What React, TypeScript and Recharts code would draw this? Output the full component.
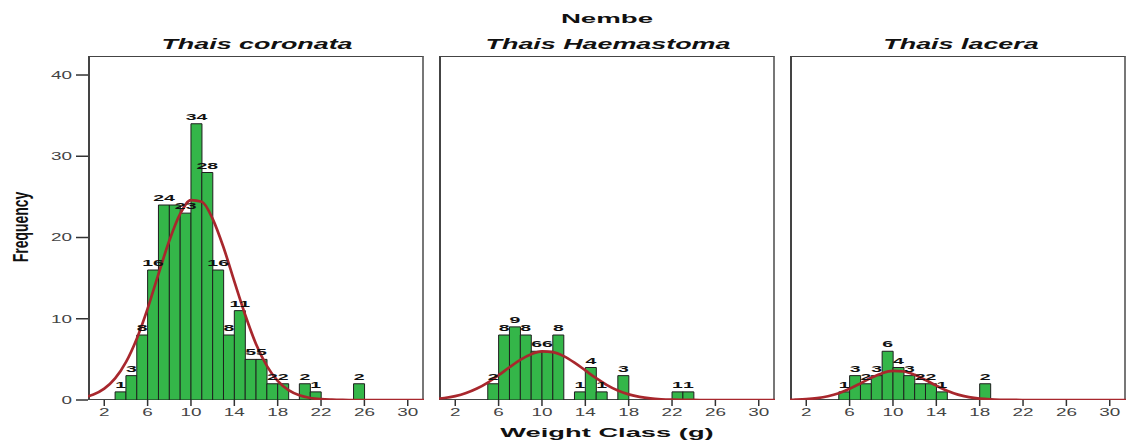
import React from "react";
import { ComposedChart, Bar, Line, XAxis, YAxis, LabelList } from "recharts";

const FONT = "'Liberation Sans', Arial, sans-serif";
const X_TICKS = [2, 6, 10, 14, 18, 22, 26, 30];
const Y_TICKS = [0, 10, 20, 30, 40];

// histogram bins: start of 1 g class -> frequency
const coronataBins = [3, 4, 5, 6, 7, 8, 9, 10, 11, 12, 13, 14, 15, 16, 17, 18, 20, 21, 25];
const coronataCounts = [1, 3, 8, 16, 24, 24, 23, 34, 28, 16, 8, 11, 5, 5, 2, 2, 2, 1, 2];

const haemastomaBins = [5, 6, 7, 8, 9, 10, 11, 13, 14, 15, 17, 22, 23];
const haemastomaCounts = [2, 8, 9, 8, 6, 6, 8, 1, 4, 1, 3, 1, 1];

const laceraBins = [5, 6, 7, 8, 9, 10, 11, 12, 13, 14, 18];
const laceraCounts = [1, 3, 2, 3, 6, 4, 3, 2, 2, 1, 2];

// normal curve
const CURVE_X = [0.5, 1, 2, 3, 4, 5, 6, 7, 8, 9, 10, 11, 12, 13, 14, 15, 16, 17, 18, 19, 20, 21, 22, 23, 24, 25, 31.5];
const coronataCurve = [0.45, 0.67, 1.39, 2.65, 4.66, 7.55, 11.25, 15.5, 19.6, 22.9, 24.6, 24.4, 22.3, 18.8, 14.6, 10.5, 6.9, 4.2, 2.35, 1.21, 0.58, 0.25, 0.1, 0.04, 0.01, 0, 0];
const haemastomaCurve = [0.18, 0.25, 0.48, 0.86, 1.41, 2.15, 3.05, 4.03, 4.95, 5.64, 5.98, 5.89, 5.4, 4.6, 3.64, 2.68, 1.83, 1.16, 0.69, 0.38, 0.19, 0.09, 0.04, 0.02, 0.01, 0, 0];
const laceraCurve = [0.02, 0.04, 0.1, 0.23, 0.46, 0.83, 1.38, 2.04, 2.73, 3.3, 3.58, 3.51, 3.1, 2.46, 1.77, 1.14, 0.66, 0.35, 0.16, 0.07, 0.03, 0.01, 0, 0, 0, 0, 0];

const PLOT_W = 336;
const TOP = 56;
const BOTTOM = 400;
const X_DOMAIN = [0.5, 31.5];
const Y_MAX = 42.34;

const XTick = (p: any) => (
  <g transform={`translate(${p.x},${p.y})`}>
    <text transform="scale(1.8,1)" textAnchor="middle" dy={8} fontSize={10.5} fill="#444" fontFamily={FONT}>
      {p.payload.value}
    </text>
  </g>
);

const YTick = (p: any) => (
  <g transform={`translate(${p.x - 2},${p.y})`}>
    <text transform="scale(1.8,1)" textAnchor="end" dy={3.8} fontSize={10.5} fill="#444" fontFamily={FONT}>
      {p.payload.value}
    </text>
  </g>
);

const BarLabel = (p: any) => {
  if (!p.value) return null;
  const x = Number(p.x) + Number(p.width) / 2;
  const y = Number(p.y) - 4;
  return (
    <g transform={`translate(${x},${y})`}>
      <text transform="scale(2.05,1)" textAnchor="middle" fontSize={9.5} fontWeight="bold" fill="#111" fontFamily={FONT}>
        {p.value}
      </text>
    </g>
  );
};

// skip a value label when it would sit on top of one already placed (as SPSS does)
function labelsFor(bins: number[], counts: number[]) {
  const pxX = PLOT_W / (X_DOMAIN[1] - X_DOMAIN[0]);
  const pxY = (BOTTOM - TOP) / Y_MAX;
  const placed: { l: number; r: number; t: number; b: number }[] = [];
  return counts.map((n, i) => {
    const cx = (bins[i] + 0.5) * pxX;
    const half = String(n).length * 5.4;
    const b = -n * pxY - 4;
    const box = { l: cx - half, r: cx + half, t: b - 7, b };
    const hit = placed.some((q) => box.l < q.r - 2 && box.r > q.l + 2 && box.t < q.b && box.b > q.t);
    if (hit) return "";
    placed.push(box);
    return String(n);
  });
}

function Panel({ left, bins, counts, curve, showY }: any) {
  const labels = labelsFor(bins, counts);
  const bars = bins.map((b: number, i: number) => ({ mid: b + 0.5, n: counts[i], lbl: labels[i] }));
  const line = CURVE_X.map((x, i) => ({ x, y: curve[i] }));
  const yw = showY ? 88 : 0;
  return (
    <>
      <div
        style={{
          position: "absolute",
          left,
          top: TOP,
          width: PLOT_W,
          height: BOTTOM - TOP,
          boxSizing: "border-box",
          borderTop: "1px solid #444",
          borderLeft: "2px solid #444",
          borderRight: "2px solid #777",
          borderBottom: "1px solid #444",
        }}
      />
      <div style={{ position: "absolute", left: left - yw, top: 0 }}>
        <ComposedChart
          width={PLOT_W + yw}
          height={445}
          data={bars}
          margin={{ top: TOP, right: 0, bottom: 15, left: 0 }}
          barCategoryGap={0}
        >
          <XAxis
            xAxisId="bins"
            type="number"
            dataKey="mid"
            domain={X_DOMAIN}
            ticks={X_TICKS}
            interval={0}
            tick={<XTick />}
            tickSize={6}
            tickLine={{ stroke: "#333", strokeWidth: 1.5 }}
            axisLine={false}
            height={30}
            allowDataOverflow
          />
          <XAxis xAxisId="curve" type="number" dataKey="x" domain={X_DOMAIN} hide allowDataOverflow />
          <YAxis
            type="number"
            domain={[0, Y_MAX]}
            ticks={Y_TICKS}
            hide={!showY}
            width={88}
            tickSize={12}
            tick={<YTick />}
            tickLine={{ stroke: "#333", strokeWidth: 1.5 }}
            axisLine={false}
            allowDataOverflow
          />
          <Bar xAxisId="bins" dataKey="n" fill="#34b649" stroke="#1e1e1e" strokeWidth={1} isAnimationActive={false}>
            <LabelList dataKey="lbl" content={BarLabel} />
          </Bar>
          <Line
            xAxisId="curve"
            data={line}
            dataKey="y"
            type="monotone"
            stroke="#a8272d"
            strokeWidth={2.7}
            dot={false}
            isAnimationActive={false}
          />
        </ComposedChart>
      </div>
    </>
  );
}

export default function App() {
  return (
    <div style={{ position: "absolute", left: 0, top: 0, width: 1128, height: 445, background: "#fff", fontFamily: FONT }}>
      <Panel left={88} bins={coronataBins} counts={coronataCounts} curve={coronataCurve} showY />
      <Panel left={439} bins={haemastomaBins} counts={haemastomaCounts} curve={haemastomaCurve} />
      <Panel left={790} bins={laceraBins} counts={laceraCounts} curve={laceraCurve} />
      <svg width={1128} height={445} style={{ position: "absolute", left: 0, top: 0, pointerEvents: "none" }} fontFamily={FONT}>
        <g transform="translate(607,22.5)">
          <text transform="scale(2.05,1)" textAnchor="middle" fontSize={13.5} fontWeight="bold" fill="#111">Nembe</text>
        </g>
        <g transform="translate(257,49)">
          <text transform="scale(1.92,1)" textAnchor="middle" fontSize={14} fontWeight="bold" fontStyle="italic" fill="#111">Thais coronata</text>
        </g>
        <g transform="translate(608,49)">
          <text transform="scale(1.92,1)" textAnchor="middle" fontSize={14} fontWeight="bold" fontStyle="italic" fill="#111">Thais Haemastoma</text>
        </g>
        <g transform="translate(961,49)">
          <text transform="scale(1.92,1)" textAnchor="middle" fontSize={14} fontWeight="bold" fontStyle="italic" fill="#111">Thais lacera</text>
        </g>
        <g transform="translate(607,437)">
          <text transform="scale(2.1,1)" textAnchor="middle" fontSize={13} fontWeight="bold" fill="#111">Weight Class (g)</text>
        </g>
        <g transform="translate(22,227) scale(1.6,1) rotate(-90)">
          <text textAnchor="middle" dy="0.25em" fontSize={14} fontWeight="bold" fill="#111">Frequency</text>
        </g>
      </svg>
    </div>
  );
}
